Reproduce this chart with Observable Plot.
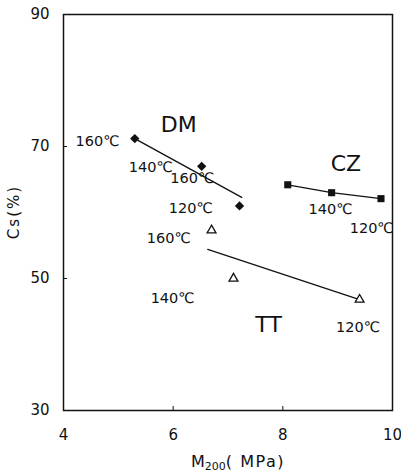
<!DOCTYPE html>
<html><head><meta charset="utf-8">
<script src="https://cdn.jsdelivr.net/npm/d3@7"></script>
<script src="https://cdn.jsdelivr.net/npm/@observablehq/plot@0.6"></script>
<style>body{margin:0;background:#fff;font-family:"DejaVu Sans",sans-serif}</style>
</head><body><div id="chart"></div>
<script>
// Series points (M200 in MPa, Cs in %)
const dmX = [5.30, 6.52, 7.21];
const dmY = [71.2, 67.0, 61.0];
const czX = [8.09, 8.89, 9.79];
const czY = [64.2, 63.0, 62.1];
const ttX = [6.70, 7.10, 9.40];
const ttY = [57.3, 50.0, 46.8];
// Fitted lines (endpoints)
const dmLineX = [5.30, 7.25];
const dmLineY = [71.2, 62.3];
const ttLineX = [6.63, 9.40];
const ttLineY = [54.4, 46.8];
// Annotations
const groupNames = ["DM", "CZ", "TT"];
const groupX = [6.10, 9.15, 7.74];
const groupY = [73.3, 67.4, 42.9];
const tempLabels = ["160℃", "140℃", "160℃", "120℃", "160℃", "140℃", "120℃", "140℃", "120℃"];
const tempX = [4.62, 5.59, 6.35, 6.32, 5.92, 5.99, 9.37, 8.87, 9.62];
const tempY = [70.8, 66.8, 65.2, 60.6, 56.1, 47.0, 42.6, 60.5, 57.6];
const xTicks = [4, 6, 8, 10];
const yTicks = [30, 50, 70, 90];

const pts = (xs, ys) => xs.map((x, i) => ({x, y: ys[i]}));
const FONT = "DejaVu Sans, sans-serif";

const chart = Plot.plot({
  width: 401, height: 473,
  marginLeft: 63, marginRight: 9, marginTop: 14, marginBottom: 63,
  style: {fontFamily: FONT, fontSize: "15px", color: "#111", background: "#fff", overflow: "visible"},
  x: {domain: [4, 10], ticks: xTicks, label: null},
  y: {domain: [30, 90], ticks: yTicks, label: null},
  marks: [
    Plot.frame({stroke: "#111", strokeWidth: 1.5}),
    Plot.axisX({ticks: xTicks, tickSize: 0, tickPadding: 19, fontSize: 15, tickFormat: d3.format("d")}),
    Plot.axisX({ticks: [6, 8], tickSize: -4, text: null}),
    Plot.axisY({ticks: yTicks, tickSize: 0, tickPadding: 14, fontSize: 15, tickFormat: d3.format("d")}),
    Plot.axisY({ticks: [50, 70], tickSize: -4, text: null}),
    Plot.line(pts(dmLineX, dmLineY), {x: "x", y: "y", stroke: "#111", strokeWidth: 1.3}),
    Plot.line(pts(czX, czY), {x: "x", y: "y", stroke: "#111", strokeWidth: 1.3}),
    Plot.line(pts(ttLineX, ttLineY), {x: "x", y: "y", stroke: "#111", strokeWidth: 1.3}),
    Plot.dot(pts(dmX, dmY), {x: "x", y: "y", symbol: "diamond2", r: 4.2, fill: "#111", stroke: "none"}),
    Plot.dot(pts(czX, czY), {x: "x", y: "y", symbol: "square", r: 4, fill: "#111", stroke: "none"}),
    Plot.dot(pts(ttX, ttY), {x: "x", y: "y", symbol: "triangle", r: 3.3, fill: "#fff", stroke: "#111", strokeWidth: 1.3}),
    Plot.text(groupNames, {x: (d, i) => groupX[i], y: (d, i) => groupY[i], text: d => d, fontSize: 22, fill: "#111"}),
    Plot.text(tempLabels, {x: (d, i) => tempX[i], y: (d, i) => tempY[i], text: d => d, fontSize: 14.5, fill: "#111"})
  ]
});
document.getElementById("chart").appendChild(chart);

const svg = d3.select(chart);
const xl = svg.append("text").attr("x", 238).attr("y", 467).attr("text-anchor", "middle")
  .attr("font-family", FONT).attr("font-size", 16).attr("fill", "#111");
xl.append("tspan").text("M");
xl.append("tspan").attr("font-size", 11).attr("dy", 3).text("200");
xl.append("tspan").attr("dy", -3).attr("letter-spacing", 1.5).text("( MPa)");
svg.append("text").attr("transform", "translate(19,212) rotate(-90)").attr("text-anchor", "middle")
  .attr("font-family", FONT).attr("font-size", 15).attr("letter-spacing", 2).attr("fill", "#111").text("Cs(%)");
</script>
</body></html>
